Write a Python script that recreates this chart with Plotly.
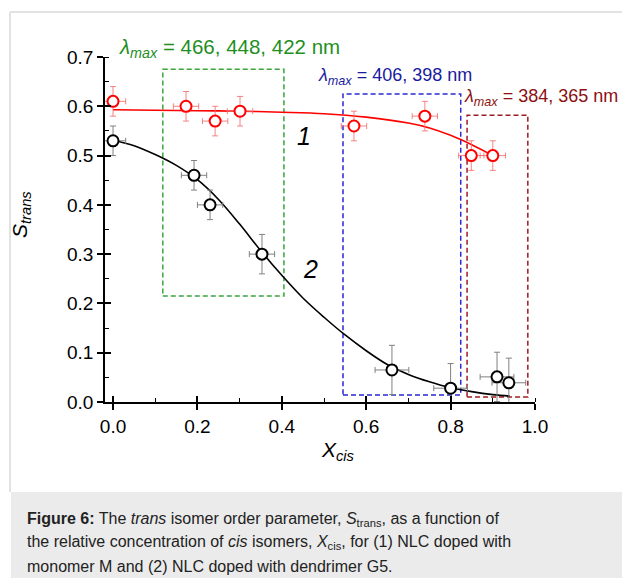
import plotly.graph_objects as go

# ---- data ----
red_x = [0.0, 0.173, 0.242, 0.301, 0.571, 0.739, 0.849, 0.900]
red_y = [0.61, 0.60, 0.57, 0.59, 0.56, 0.58, 0.50, 0.50]
red_xerr = [0.03, 0.03, 0.03, 0.03, 0.03, 0.03, 0.03, 0.03]
red_yerr = [0.03, 0.03, 0.03, 0.03, 0.03, 0.03, 0.03, 0.03]

blk_x = [0.0, 0.192, 0.230, 0.353, 0.661, 0.800, 0.910, 0.938]
blk_y = [0.53, 0.46, 0.40, 0.30, 0.065, 0.028, 0.051, 0.039]
blk_xerr = [0.03, 0.03, 0.03, 0.03, 0.04, 0.04, 0.04, 0.04]
blk_yerr = [0.03, 0.03, 0.03, 0.04, 0.05, 0.05, 0.05, 0.05]

red_fit_x = [0.0, 0.1, 0.2, 0.3, 0.4, 0.5, 0.6, 0.7, 0.75, 0.8, 0.85, 0.9]
red_fit_y = [0.593, 0.592, 0.591, 0.590, 0.588, 0.585, 0.578, 0.566, 0.556, 0.541, 0.522, 0.500]

blk_fit_x = [0.0, 0.05, 0.1, 0.15, 0.2, 0.25, 0.3, 0.35, 0.4, 0.45, 0.5, 0.55,
             0.6, 0.65, 0.7, 0.75, 0.8, 0.85, 0.9, 0.94]
blk_fit_y = [0.531, 0.520, 0.502, 0.480, 0.451, 0.411, 0.361, 0.307, 0.257, 0.211,
             0.172, 0.136, 0.104, 0.076, 0.056, 0.041, 0.029, 0.021, 0.015, 0.012]

x_ticks = [0.0, 0.2, 0.4, 0.6, 0.8, 1.0]
y_ticks = [0.0, 0.1, 0.2, 0.3, 0.4, 0.5, 0.6, 0.7]

lambda_labels = ["466, 448, 422 nm", "406, 398 nm", "384, 365 nm"]

W, H = 622, 578
FONT = "Arial, Liberation Sans, sans-serif"


def px(x):
    return x / W


def py(y):
    return 1 - y / H


fig = go.Figure()

fig.add_trace(go.Scatter(x=red_fit_x, y=red_fit_y, mode="lines", line=dict(color="#ff0000", width=1.6),
                         line_shape="spline", hoverinfo="skip", showlegend=False))
fig.add_trace(go.Scatter(x=blk_fit_x, y=blk_fit_y, mode="lines", line=dict(color="#000000", width=1.6),
                         line_shape="spline", hoverinfo="skip", showlegend=False))

fig.add_trace(go.Scatter(
    x=red_x, y=red_y, mode="markers", showlegend=False,
    marker=dict(symbol="circle", size=11, color="white", line=dict(color="#ff0000", width=2)),
    error_x=dict(type="data", array=red_xerr, color="rgba(245,110,110,0.85)", thickness=1, width=3),
    error_y=dict(type="data", array=red_yerr, color="rgba(245,110,110,0.85)", thickness=1, width=3),
))
fig.add_trace(go.Scatter(
    x=blk_x, y=blk_y, mode="markers", showlegend=False,
    marker=dict(symbol="circle", size=11, color="white", line=dict(color="#000000", width=2)),
    error_x=dict(type="data", array=blk_xerr, color="#808080", thickness=1, width=3),
    error_y=dict(type="data", array=blk_yerr, color="#808080", thickness=1, width=3),
))
# invisible trace on overlay axes so the inner tick halves render
fig.add_trace(go.Scatter(x=[0.5], y=[0.3], xaxis="x2", yaxis="y2", mode="markers",
                         marker=dict(opacity=0), hoverinfo="skip", showlegend=False))

xr = [-0.019, 1.0]
yr = [0.0, 0.7]
xdom = [px(105), px(535)]
ydom = [py(402), py(57)]

tickfont = dict(family=FONT, size=19, color="black")
fig.update_layout(
    width=W, height=H, autosize=False,
    margin=dict(l=0, r=0, t=0, b=0, pad=0, autoexpand=False),
    paper_bgcolor="white", plot_bgcolor="white",
    xaxis=dict(domain=xdom, range=xr, tickvals=x_ticks, ticktext=[f"{v:.1f}" for v in x_ticks],
               ticks="outside", ticklen=6, tickwidth=1.5, tickcolor="black", automargin=False,
               showline=True, linecolor="black", linewidth=1.5, showgrid=False, zeroline=False,
               tickfont=tickfont, anchor="y",
               minor=dict(dtick=0.1, tick0=0, ticks="inside", ticklen=4, tickwidth=1.2,
                          tickcolor="black", showgrid=False)),
    yaxis=dict(domain=ydom, range=yr, tickvals=y_ticks, ticktext=[f"{v:.1f}" for v in y_ticks],
               ticks="outside", ticklen=6, tickwidth=1.5, tickcolor="black", automargin=False,
               showline=True, linecolor="black", linewidth=1.5, showgrid=False, zeroline=False,
               tickfont=tickfont, anchor="x",
               minor=dict(dtick=0.05, tick0=0, ticks="inside", ticklen=4, tickwidth=1.2,
                          tickcolor="black", showgrid=False)),
    xaxis2=dict(domain=xdom, range=xr, overlaying="x", anchor="y2", side="bottom", automargin=False,
                tickvals=x_ticks, ticks="inside", ticklen=6, tickwidth=1.5, tickcolor="black",
                showticklabels=False, showline=False, showgrid=False, zeroline=False),
    yaxis2=dict(domain=ydom, range=yr, overlaying="y", anchor="x2", side="left", automargin=False,
                tickvals=y_ticks, ticks="inside", ticklen=6, tickwidth=1.5, tickcolor="black",
                showticklabels=False, showline=False, showgrid=False, zeroline=False),
)

# dashed wavelength boxes (data coordinates)
boxes = [
    (0.118, 0.405, 0.215, 0.675, "#3aa63a"),
    (0.545, 0.824, 0.014, 0.625, "#2a2ad2"),
    (0.839, 0.983, 0.010, 0.582, "#a01c1c"),
]
for x0, x1, y0, y1, c in boxes:
    fig.add_shape(type="rect", xref="x", yref="y", x0=x0, x1=x1, y0=y0, y1=y1,
                  line=dict(color=c, width=1.5, dash="5px,3px"), layer="below")

# lambda labels
lam_pos = [(117, 48, "#1f8f1f", 20.5), (316, 76, "#1a1a9e", 18), (462, 98, "#8b1010", 18)]
for (lx, ly, c, fs), txt in zip(lam_pos, lambda_labels):
    fig.add_annotation(xref="paper", yref="paper", x=px(lx), y=py(ly), xanchor="left", yanchor="middle",
                       text=f"<i>λ</i><sub><i>max</i></sub> = {txt}", showarrow=False,
                       font=dict(family=FONT, size=fs, color=c))

# curve labels
fig.add_annotation(xref="paper", yref="paper", x=px(304), y=py(136), xanchor="center", yanchor="middle",
                   text="<i>1</i>", showarrow=False, font=dict(family=FONT, size=25, color="black"))
fig.add_annotation(xref="paper", yref="paper", x=px(310), y=py(269), xanchor="center", yanchor="middle",
                   text="<i>2</i>", showarrow=False, font=dict(family=FONT, size=25, color="black"))

# axis titles
fig.add_annotation(xref="paper", yref="paper", x=px(338), y=py(451), xanchor="center", yanchor="middle",
                   text="<i>X</i><sub><i>cis</i></sub>", showarrow=False,
                   font=dict(family=FONT, size=21, color="black"))
fig.add_annotation(xref="paper", yref="paper", x=px(21), y=py(215), xanchor="center", yanchor="middle",
                   textangle=-90, text="<i>S</i><sub><i>trans</i></sub>", showarrow=False,
                   font=dict(family=FONT, size=21, color="black"))

# page frame and caption box
fig.add_shape(type="line", xref="paper", yref="paper", x0=px(10), x1=1, y0=py(12), y1=py(12),
              line=dict(color="#e2e2e2", width=2))
fig.add_shape(type="line", xref="paper", yref="paper", x0=px(10), x1=px(10), y0=py(12), y1=py(492),
              line=dict(color="#e2e2e2", width=2))
fig.add_shape(type="rect", xref="paper", yref="paper", x0=px(11), x1=1, y0=0, y1=py(492),
              line=dict(width=0), fillcolor="#ebebeb", layer="below")

caption = [
    "<b>Figure 6:</b> The <i>trans</i> isomer order parameter, <i>S</i><sub>trans</sub>, as a function of",
    "the relative concentration of <i>cis</i> isomers, <i>X</i><sub>cis</sub>, for (1) NLC doped with",
    "monomer M and (2) NLC doped with dendrimer G5.",
]
for i, line in enumerate(caption):
    fig.add_annotation(xref="paper", yref="paper", x=px(25), y=py(519 + 23.5 * i), xanchor="left",
                       yanchor="middle", text=line, showarrow=False,
                       font=dict(family=FONT, size=16, color="#222222"))

post = (
    "document.documentElement.style.margin='0';"
    "document.documentElement.style.padding='0';"
    "document.body.style.margin='0';"
    "document.body.style.padding='0';"
    "document.body.style.overflow='hidden';"
)
fig.write_html("out.html", post_script=post)
